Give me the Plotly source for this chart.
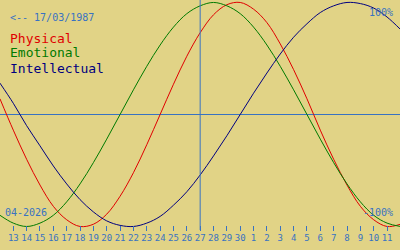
import plotly.graph_objects as go

# day offsets from 13 April 2026 (index 0)
day_index = list(range(-1, 30))
physical = [0.14, -0.14, -0.40, -0.63, -0.82, -0.94, -1.00, -0.98, -0.89, -0.73, -0.52, -0.27, 0.00,
            0.27, 0.52, 0.73, 0.89, 0.98, 1.00, 0.94, 0.82, 0.63, 0.40, 0.14, -0.14, -0.40, -0.63,
            -0.82, -0.94, -1.00, -0.98]
emotional = [-0.90, -0.97, -1.00, -0.97, -0.90, -0.78, -0.62, -0.43, -0.22, 0.00, 0.22, 0.43, 0.62,
             0.78, 0.90, 0.97, 1.00, 0.97, 0.90, 0.78, 0.62, 0.43, 0.22, 0.00, -0.22, -0.43, -0.62,
             -0.78, -0.90, -0.97, -1.00]
intellectual = [0.28, 0.10, -0.10, -0.28, -0.46, -0.62, -0.76, -0.87, -0.95, -0.99, -1.00, -0.97,
                -0.91, -0.81, -0.69, -0.54, -0.37, -0.19, 0.00, 0.19, 0.37, 0.54, 0.69, 0.81, 0.91,
                0.97, 1.00, 0.99, 0.95, 0.87, 0.76]
tick_positions = list(range(0, 29))
tick_labels = ["13", "14", "15", "16", "17", "18", "19", "20", "21", "22", "23", "24", "25", "26",
               "27", "28", "29", "30", "1", "2", "3", "4", "5", "6", "7", "8", "9", "10", "11"]
today_index = 14

BG = "#e1d386"
BLUE = "#3872c2"
RED = "#e00000"
GREEN = "#007a00"
NAVY = "#000080"
MONO = "DejaVu Sans Mono"

fig = go.Figure()
for name, vals, col in [("Physical", physical, RED), ("Emotional", emotional, GREEN),
                        ("Intellectual", intellectual, NAVY)]:
    fig.add_trace(go.Scatter(x=day_index, y=vals, mode="lines", name=name,
                             line=dict(color=col, width=1, shape="spline", smoothing=1.0),
                             hoverinfo="skip"))

fig.add_shape(type="line", xref="x", yref="paper", x0=today_index, x1=today_index,
              y0=0.08, y1=1, line=dict(color=BLUE, width=1))

def ann(text, x, y, size, color, xanchor="left"):
    fig.add_annotation(text=text, xref="paper", yref="paper", x=x, y=y, showarrow=False,
                       xanchor=xanchor, yanchor="middle",
                       font=dict(family=MONO, size=size, color=color))

ann("<-- 17/03/1987", 8 / 400, 1 - 17 / 250, 10, BLUE)
ann("Physical", 8 / 400, 1 - 38 / 250, 13, RED)
ann("Emotional", 8 / 400, 1 - 53 / 250, 13, GREEN)
ann("Intellectual", 8 / 400, 1 - 68 / 250, 13, NAVY)
ann("100%", 395 / 400, 1 - 12 / 250, 10, BLUE, "right")
ann("-100%", 395 / 400, 1 - 212 / 250, 10, BLUE, "right")
ann("04-2026", 3 / 400, 1 - 212 / 250, 10, BLUE)

fig.update_layout(
    width=400, height=250, margin=dict(l=0, r=0, t=0, b=0),
    paper_bgcolor=BG, plot_bgcolor=BG, showlegend=False,
    xaxis=dict(range=[-0.996, 28.97], tickvals=tick_positions, ticktext=tick_labels,
               anchor="free", position=1 - 225 / 250, ticks="outside", ticklen=5,
               tickcolor=BLUE, tickwidth=1, showgrid=False, zeroline=False, showline=False,
               tickangle=0, ticklabelstandoff=-1,
               tickfont=dict(family=MONO, size=9, color=BLUE), fixedrange=True),
    yaxis=dict(range=[-1.210, 1.022], showticklabels=False, showgrid=False,
               zeroline=True, zerolinecolor=BLUE, zerolinewidth=1, fixedrange=True),
)

fig.write_html("out.html", config={"displayModeBar": False})
